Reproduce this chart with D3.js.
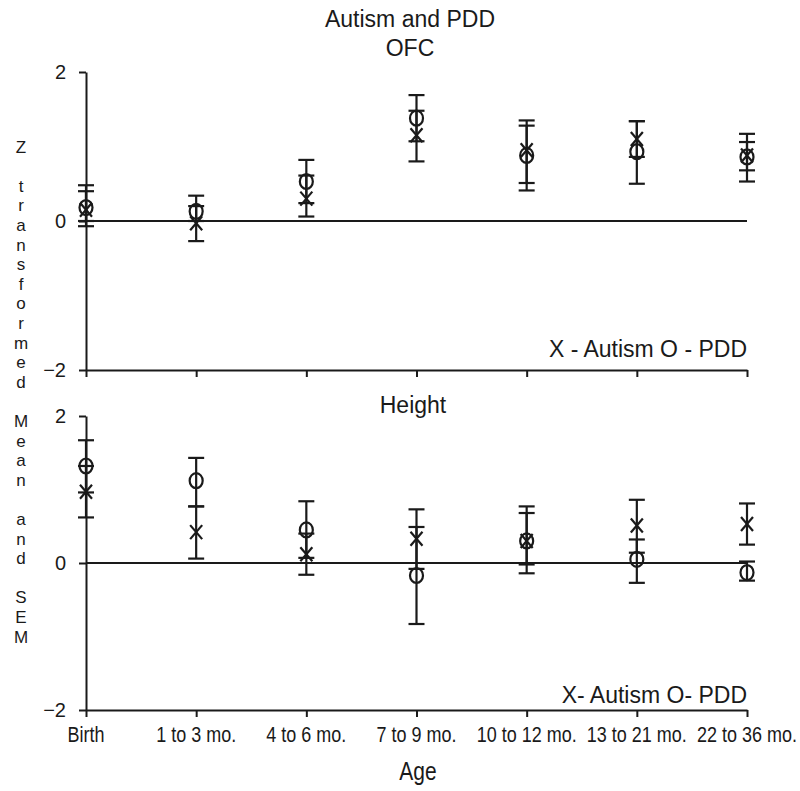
<!DOCTYPE html>
<html>
<head>
<meta charset="utf-8">
<script src="https://cdn.jsdelivr.net/npm/d3@7"></script>
<style>
  html, body { margin: 0; padding: 0; background: #fff; }
  svg text { font-family: "Liberation Sans", Arial, Helvetica, sans-serif; fill: #1a1a1a; }
</style>
</head>
<body>
<svg id="chart" width="800" height="791"></svg>
<script>
// ---- data ----
const categories = ["Birth", "1 to 3 mo.", "4 to 6 mo.", "7 to 9 mo.", "10 to 12 mo.", "13 to 21 mo.", "22 to 36 mo."];
const yTicks = [-2, 0, 2];

// OFC panel
const ofcAutismMean = [0.15, -0.03, 0.30, 1.15, 0.95, 1.10, 0.88];
const ofcAutismLow  = [0.00, -0.27, 0.06, 0.80, 0.51, 0.86, 0.68];
const ofcAutismHigh = [0.40, 0.20, 0.61, 1.48, 1.35, 1.34, 1.06];
const ofcPddMean    = [0.18, 0.13, 0.53, 1.38, 0.88, 0.93, 0.86];
const ofcPddLow     = [-0.07, 0.00, 0.24, 1.07, 0.41, 0.50, 0.53];
const ofcPddHigh    = [0.48, 0.34, 0.82, 1.69, 1.28, 1.34, 1.17];

// Height panel
const htAutismMean = [0.97, 0.42, 0.12, 0.33, 0.30, 0.51, 0.53];
const htAutismLow  = [0.62, 0.06, -0.16, -0.08, -0.14, 0.14, 0.25];
const htAutismHigh = [1.32, 0.77, 0.40, 0.73, 0.77, 0.86, 0.81];
const htPddMean    = [1.32, 1.12, 0.45, -0.17, 0.30, 0.05, -0.13];
const htPddLow     = [0.96, 0.77, 0.07, -0.83, -0.02, -0.27, -0.24];
const htPddHigh    = [1.67, 1.43, 0.84, 0.49, 0.68, 0.32, 0.02];

const yLabelLines = ["Z", "", "t","r","a","n","s","f","o","r","m","e","d", "", "M","e","a","n", "", "a","n","d", "", "S","E","M"];

// ---- drawing ----
const svg = d3.select("#chart");
const ink = "#1a1a1a";

const x = d3.scalePoint().domain(categories).range([86, 747]);

function panel(cfg) {
  const y = d3.scaleLinear().domain([-2, 2]).range([cfg.bottom, cfg.top]);
  const g = svg.append("g");

  // zero line
  g.append("line")
    .attr("x1", x(categories[0])).attr("x2", x(categories[categories.length - 1]))
    .attr("y1", y(0)).attr("y2", y(0))
    .attr("stroke", ink).attr("stroke-width", 2);

  // y axis
  const ya = g.append("g").attr("transform", `translate(${x(categories[0])},0)`)
    .call(d3.axisLeft(y).tickValues(yTicks).tickSize(7).tickSizeOuter(0).tickPadding(13).tickFormat(d3.format("d")));
  ya.selectAll("path, line").attr("stroke", ink).attr("stroke-width", 2);
  ya.selectAll("text").attr("font-size", 20).attr("fill", ink)
    .style("font-family", "'Liberation Sans', Arial, sans-serif");

  // x axis
  const xa = g.append("g").attr("transform", `translate(0,${y(-2)})`)
    .call(d3.axisBottom(x).tickSize(7).tickSizeOuter(0).tickFormat(""));
  xa.selectAll("path, line").attr("stroke", ink).attr("stroke-width", 2);

  // series
  const series = [
    { mean: cfg.pddMean, low: cfg.pddLow, high: cfg.pddHigh, shape: "O" },
    { mean: cfg.autMean, low: cfg.autLow, high: cfg.autHigh, shape: "X" }
  ];
  const capW = 8;
  series.forEach(s => {
    const pts = categories.map((c, i) => ({ c, m: s.mean[i], lo: s.low[i], hi: s.high[i] }));
    const eg = g.append("g").attr("stroke", ink).attr("stroke-width", 2.2).attr("fill", "none");
    eg.selectAll(".v").data(pts).join("line")
      .attr("x1", d => x(d.c)).attr("x2", d => x(d.c))
      .attr("y1", d => y(d.lo)).attr("y2", d => y(d.hi));
    eg.selectAll(".ch").data(pts).join("line")
      .attr("x1", d => x(d.c) - capW).attr("x2", d => x(d.c) + capW)
      .attr("y1", d => y(d.hi)).attr("y2", d => y(d.hi));
    eg.selectAll(".cl").data(pts).join("line")
      .attr("x1", d => x(d.c) - capW).attr("x2", d => x(d.c) + capW)
      .attr("y1", d => y(d.lo)).attr("y2", d => y(d.lo));
    if (s.shape === "O") {
      eg.selectAll("ellipse").data(pts).join("ellipse")
        .attr("cx", d => x(d.c)).attr("cy", d => y(d.m))
        .attr("rx", 6.5).attr("ry", 7.5);
    } else {
      eg.selectAll(".xa").data(pts).join("line")
        .attr("x1", d => x(d.c) - 6).attr("x2", d => x(d.c) + 6)
        .attr("y1", d => y(d.m) - 7).attr("y2", d => y(d.m) + 7);
      eg.selectAll(".xb").data(pts).join("line")
        .attr("x1", d => x(d.c) - 6).attr("x2", d => x(d.c) + 6)
        .attr("y1", d => y(d.m) + 7).attr("y2", d => y(d.m) - 7);
    }
  });

  // legend text
  g.append("text")
    .attr("x", x(categories[categories.length - 1])).attr("y", cfg.legendY)
    .attr("text-anchor", "end").attr("font-size", 23)
    .text(cfg.legend);

  return y;
}

panel({
  top: 72, bottom: 370, legendY: 357, legend: "X - Autism O - PDD",
  autMean: ofcAutismMean, autLow: ofcAutismLow, autHigh: ofcAutismHigh,
  pddMean: ofcPddMean, pddLow: ofcPddLow, pddHigh: ofcPddHigh
});
panel({
  top: 416, bottom: 710, legendY: 703, legend: "X- Autism O- PDD",
  autMean: htAutismMean, autLow: htAutismLow, autHigh: htAutismHigh,
  pddMean: htPddMean, pddLow: htPddLow, pddHigh: htPddHigh
});

// titles
svg.append("text").attr("x", 410).attr("y", 27).attr("text-anchor", "middle").attr("font-size", 23).text("Autism and PDD");
svg.append("text").attr("x", 410).attr("y", 56).attr("text-anchor", "middle").attr("font-size", 23).text("OFC");
svg.append("text").attr("x", 413).attr("y", 413).attr("text-anchor", "middle").attr("font-size", 23).text("Height");

// x tick labels (condensed look)
svg.append("g").selectAll("text").data(categories).join("text")
  .attr("transform", d => `translate(${x(d)},742) scale(1,1.22)`)
  .attr("text-anchor", "middle").attr("font-size", 18)
  .text(d => d);

// x axis title
svg.append("text").attr("transform", "translate(418,780) scale(1,1.2)")
  .attr("text-anchor", "middle").attr("font-size", 21).text("Age");

// stacked y axis title
svg.append("g").selectAll("text").data(yLabelLines).join("text")
  .attr("x", 21).attr("y", (d, i) => 147 + i * 19.6)
  .attr("text-anchor", "middle").attr("dominant-baseline", "central")
  .attr("font-size", 17)
  .text(d => d);
</script>
</body>
</html>
